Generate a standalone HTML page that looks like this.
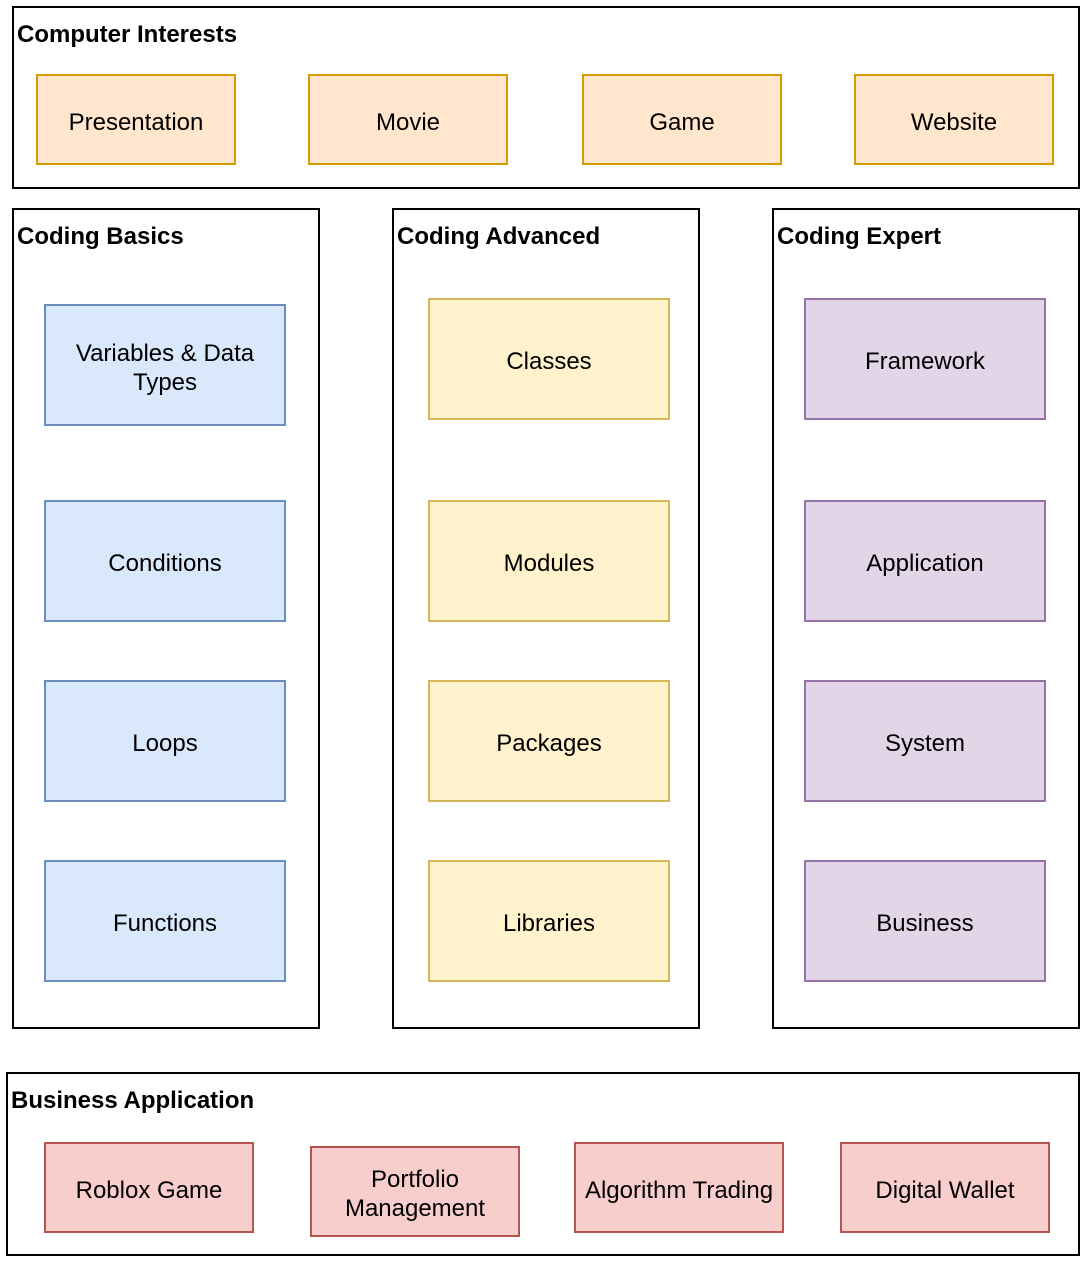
<!DOCTYPE html>
<html><head><style>
body{margin:0;width:1086px;height:1266px;background:#fff;position:relative;font-family:"Liberation Sans",Arial,sans-serif;overflow:hidden}
.c{position:absolute;border:2px solid #000;box-sizing:border-box}
.t{position:absolute;font-weight:bold;font-size:24px;color:#000;white-space:nowrap}
.b{position:absolute;box-sizing:border-box;border:2px solid;display:flex;align-items:center;justify-content:center;text-align:center;font-size:24px;line-height:29px;color:#000;padding-top:5px}
.o{background:#ffe6cc;border-color:#d79b00}
.bl{background:#dae8fc;border-color:#6c8ebf}
.y{background:#fff2cc;border-color:#d6b656}
.p{background:#e1d5e7;border-color:#9673a6}
.r{background:#f8cecc;border-color:#b85450}
</style></head><body>
<div class="c" style="left:12px;top:6px;width:1068px;height:183px"></div>
<div class="t" style="left:17px;top:21px">Computer Interests</div>
<div class="b o" style="left:36px;top:74px;width:200px;height:91px">Presentation</div>
<div class="b o" style="left:308px;top:74px;width:200px;height:91px">Movie</div>
<div class="b o" style="left:582px;top:74px;width:200px;height:91px">Game</div>
<div class="b o" style="left:854px;top:74px;width:200px;height:91px">Website</div>

<div class="c" style="left:12px;top:208px;width:308px;height:821px"></div>
<div class="t" style="left:17px;top:223px">Coding Basics</div>
<div class="b bl" style="left:44px;top:304px;width:242px;height:122px">Variables &amp; Data<br>Types</div>
<div class="b bl" style="left:44px;top:500px;width:242px;height:122px">Conditions</div>
<div class="b bl" style="left:44px;top:680px;width:242px;height:122px">Loops</div>
<div class="b bl" style="left:44px;top:860px;width:242px;height:122px">Functions</div>

<div class="c" style="left:392px;top:208px;width:308px;height:821px"></div>
<div class="t" style="left:397px;top:223px">Coding Advanced</div>
<div class="b y" style="left:428px;top:298px;width:242px;height:122px">Classes</div>
<div class="b y" style="left:428px;top:500px;width:242px;height:122px">Modules</div>
<div class="b y" style="left:428px;top:680px;width:242px;height:122px">Packages</div>
<div class="b y" style="left:428px;top:860px;width:242px;height:122px">Libraries</div>

<div class="c" style="left:772px;top:208px;width:308px;height:821px"></div>
<div class="t" style="left:777px;top:223px">Coding Expert</div>
<div class="b p" style="left:804px;top:298px;width:242px;height:122px">Framework</div>
<div class="b p" style="left:804px;top:500px;width:242px;height:122px">Application</div>
<div class="b p" style="left:804px;top:680px;width:242px;height:122px">System</div>
<div class="b p" style="left:804px;top:860px;width:242px;height:122px">Business</div>

<div class="c" style="left:6px;top:1072px;width:1074px;height:184px"></div>
<div class="t" style="left:11px;top:1087px">Business Application</div>
<div class="b r" style="left:44px;top:1142px;width:210px;height:91px">Roblox Game</div>
<div class="b r" style="left:310px;top:1146px;width:210px;height:91px">Portfolio<br>Management</div>
<div class="b r" style="left:574px;top:1142px;width:210px;height:91px">Algorithm Trading</div>
<div class="b r" style="left:840px;top:1142px;width:210px;height:91px">Digital Wallet</div>
</body></html>
